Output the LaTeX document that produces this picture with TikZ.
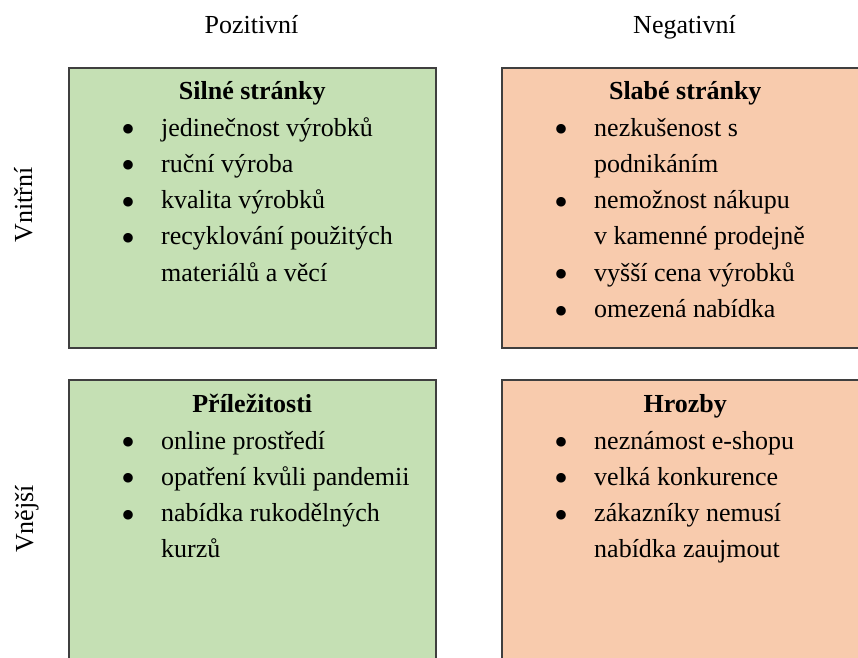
\documentclass[tikz,border=0pt]{standalone}
\usepackage{fontspec}
\setmainfont{Liberation Serif}
\usepackage{xcolor}
\usetikzlibrary{positioning}
\definecolor{zelena}{HTML}{C5E0B4}
\definecolor{oranzova}{HTML}{F8CBAD}
\definecolor{ramecek}{HTML}{3F3F3F}
\tikzstyle{pole}=[draw=ramecek, line width=1.5pt, minimum width=367pt,
		minimum height=280pt, inner sep=0, anchor=north west]
\tikzstyle{poz}=[pole, fill=zelena]
\tikzstyle{neg}=[pole, fill=oranzova]
\tikzstyle{nadpis}=[anchor=base, inner sep=0,
		font=\fontsize{26}{36.3}\selectfont\bfseries]
\tikzstyle{seznam}=[anchor=base west, inner sep=0]
\tikzstyle{popis}=[anchor=base, inner sep=0]
\newcommand{\odr}{\makebox[9pt]{\fontsize{40}{36.3}\selectfont\raisebox{-6.5pt}{\textbullet}}}

\begin{document}
\begin{tikzpicture}[x=1pt, y=-1pt, font=\fontsize{26}{36.3}\selectfont]
            \useasboundingbox (0,0) rectangle (858,657);
            % ctyri pole
            \node[poz] (silne) at (68,67) {};
            \node[neg] (slabe) at (501,67) {};
            \node[poz] (prilez) at (68,379) {};
            \node[neg] (hrozby) at (501,379) {};
            % popisky os
            \node[popis] (pozit) at (251.5,33) {Pozitivní};
            \node[popis] (negat) at (684.5,33) {Negativní};
            \node[popis, rotate=90] (vnitr) at (32,205) {Vnitřní};
            \node[popis, rotate=90] (vnej) at (33,519) {Vnější};
            % nadpisy
            \node[nadpis] (silneN) at ([yshift=-32pt]silne.north) {Silné stránky};
            \node[nadpis] (slabeN) at ([yshift=-32pt]slabe.north) {Slabé stránky};
            \node[nadpis] (prilezN) at ([yshift=-33pt]prilez.north) {Příležitosti};
            \node[nadpis] (hrozbyN) at ([yshift=-33pt]hrozby.north) {Hrozby};
            % seznamy
            \node[seznam] (silneS) at ([xshift=56pt, yshift=-69pt]silne.north west) {%
                \begin{tabular}[t]{@{}c@{\hspace{28pt}}l@{}}
                    \odr & jedinečnost výrobků \\
                    \odr & ruční výroba \\
                    \odr & kvalita výrobků \\
                    \odr & recyklování použitých \\
                         & materiálů a věcí
                \end{tabular}};
            \node[seznam] (slabeS) at ([xshift=56pt, yshift=-69pt]slabe.north west) {%
                \begin{tabular}[t]{@{}c@{\hspace{28pt}}l@{}}
                    \odr & nezkušenost s \\
                         & podnikáním \\
                    \odr & nemožnost nákupu \\
                         & v kamenné prodejně \\
                    \odr & vyšší cena výrobků \\
                    \odr & omezená nabídka
                \end{tabular}};
            \node[seznam] (prilezS) at ([xshift=56pt, yshift=-70pt]prilez.north west) {%
                \begin{tabular}[t]{@{}c@{\hspace{28pt}}l@{}}
                    \odr & online prostředí \\
                    \odr & opatření kvůli pandemii \\
                    \odr & nabídka rukodělných \\
                         & kurzů
                \end{tabular}};
            \node[seznam] (hrozbyS) at ([xshift=56pt, yshift=-70pt]hrozby.north west) {%
                \begin{tabular}[t]{@{}c@{\hspace{28pt}}l@{}}
                    \odr & neznámost e-shopu \\
                    \odr & velká konkurence \\
                    \odr & zákazníky nemusí \\
                         & nabídka zaujmout
                \end{tabular}};
        \end{tikzpicture}
\end{document}
